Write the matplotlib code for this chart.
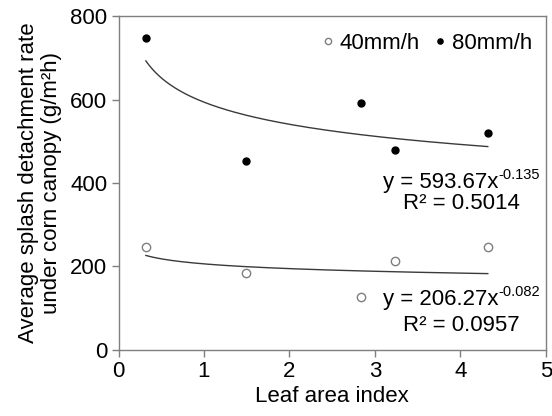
import numpy as np
import matplotlib
matplotlib.use('Agg')
import matplotlib.pyplot as plt

plt.rcParams['font.family'] = ['Liberation Sans', 'DejaVu Sans']

# leaf area index and splash detachment rates
lai = [0.32, 1.49, 2.84, 3.23, 4.32]
rate_40 = [247, 184, 127, 212, 247]
rate_80 = [748, 452, 591, 478, 520]

# power fits y = a * x^b
fit_40 = (206.27, -0.082, 0.0957)
fit_80 = (593.67, -0.135, 0.5014)

grey = '#7f7f7f'
fs = 16

fig = plt.figure(figsize=(5.52, 4.16), dpi=100)
ax = fig.add_axes([0.2147, 0.1587, 0.7743, 0.8028])

xs = np.linspace(min(lai), max(lai), 200)
ax.plot(xs, fit_80[0] * xs ** fit_80[1], color='#3a3a3a', lw=1.0, zorder=1)
ax.plot(xs, fit_40[0] * xs ** fit_40[1], color='#3a3a3a', lw=1.0, zorder=1)

ax.plot(lai, rate_40, 'o', ms=6, mfc='white', mec=grey, mew=1.0, ls='none',
        label='40mm/h', zorder=2)
ax.plot(lai, rate_80, 'o', ms=5, mfc='black', mec='black', ls='none',
        label='80mm/h', zorder=2)

ax.set_xlim(0, 5)
ax.set_ylim(0, 800)
ax.set_xticks(range(0, 6))
ax.set_yticks(range(0, 801, 200))
for s in ax.spines.values():
    s.set_color(grey)
    s.set_linewidth(1.0)
ax.tick_params(direction='out', length=5, width=1, color=grey,
               labelsize=fs, pad=3)

ax.set_xlabel('Leaf area index', fontsize=fs, labelpad=3)
ax.set_ylabel('Average splash detachment rate\nunder corn canopy (g/m²h)',
              fontsize=fs, labelpad=6, linespacing=1.1)

leg = ax.legend(loc='upper right', ncol=2, frameon=False, fontsize=fs,
                handletextpad=0.15, columnspacing=0.5, handlelength=0.8,
                markerscale=0.75, bbox_to_anchor=(1.0, 0.99),
                borderaxespad=0.2)


def equation(x, y, fit):
    t = ax.text(x, y, 'y = %.2fx' % fit[0], fontsize=fs, ha='left', va='center')
    ax.annotate('%.3f' % fit[1], xy=(1.0, 0.5), xycoords=t, fontsize=10.5,
                ha='left', va='bottom')


equation(3.09, 402, fit_80)
ax.text(3.33, 350, 'R² = %.4f' % fit_80[2], fontsize=fs, ha='left', va='center')
equation(3.09, 122, fit_40)
ax.text(3.33, 58, 'R² = %.4f' % fit_40[2], fontsize=fs, ha='left', va='center')

fig.savefig('out.png', dpi=100)
